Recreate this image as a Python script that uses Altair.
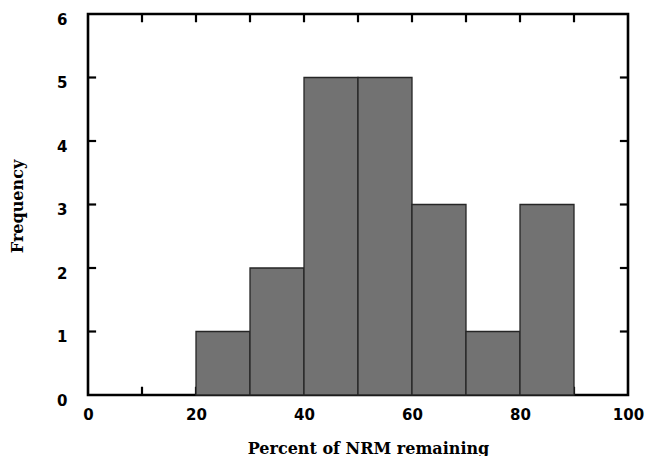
import altair as alt
import pandas as pd

bin_start = [20, 30, 40, 50, 60, 70, 80]
bin_end = [30, 40, 50, 60, 70, 80, 90]
freq = [1, 2, 5, 5, 3, 1, 3]
x_tick_values = [10, 20, 30, 40, 50, 60, 70, 80, 90]
x_label_values = [0, 20, 40, 60, 80, 100]
y_tick_values = [1, 2, 3, 4, 5]
y_label_values = [0, 1, 2, 3, 4, 5, 6]

bars_df = pd.DataFrame({"start": bin_start, "end": bin_end, "freq": freq})
xt_df = pd.DataFrame({"v": x_tick_values})
yt_df = pd.DataFrame({"v": y_tick_values})

xscale = alt.Scale(domain=[0, 100], nice=False, zero=False)
yscale = alt.Scale(domain=[0, 6], nice=False)

label_font = "DejaVu Sans"
title_font = "DejaVu Serif"

xaxis = alt.Axis(values=x_label_values, ticks=False, domain=False, grid=False,
                 format="d", labelFlush=False,
                 labelFont=label_font, labelFontWeight="bold", labelFontSize=15,
                 labelColor="black", labelPadding=12,
                 title="Percent of NRM remaining", titleFont=title_font,
                 titleFontWeight="bold", titleFontSize=16, titleColor="black",
                 titleX=280, titleY=58, titleBaseline="alphabetic", titleAlign="center")
yaxis = alt.Axis(values=y_label_values, ticks=False, domain=False, grid=False,
                 format="d", labelFlush=False, labelOffset=5,
                 labelFont=label_font, labelFontWeight="bold", labelFontSize=15,
                 labelColor="black", labelPadding=21,
                 title="Frequency", titleFont=title_font,
                 titleFontWeight="bold", titleFontSize=16, titleColor="black",
                 titleX=-66, titleY=192, titleBaseline="alphabetic", titleAlign="center",
                 titleAngle=270)

bars = alt.Chart(bars_df).mark_rect(fill="#727272", stroke="#262626", strokeWidth=1.3).encode(
    x=alt.X("start:Q", scale=xscale, axis=xaxis),
    x2="end:Q",
    y=alt.Y("freq:Q", scale=yscale, axis=yaxis),
    y2=alt.datum(0),
)

tick_style = dict(color="black", strokeWidth=2.2)
bottom_ticks = alt.Chart(xt_df).mark_rule(**tick_style).encode(
    x=alt.X("v:Q", scale=xscale), y=alt.datum(0), y2=alt.datum(0.13))
top_ticks = alt.Chart(xt_df).mark_rule(**tick_style).encode(
    x=alt.X("v:Q", scale=xscale), y=alt.datum(6), y2=alt.datum(5.87))
left_ticks = alt.Chart(yt_df).mark_rule(**tick_style).encode(
    y=alt.Y("v:Q", scale=yscale), x=alt.datum(0), x2=alt.datum(1.5))
right_ticks = alt.Chart(yt_df).mark_rule(**tick_style).encode(
    y=alt.Y("v:Q", scale=yscale), x=alt.datum(100), x2=alt.datum(98.5))

chart = alt.layer(bottom_ticks, top_ticks, left_ticks, right_ticks, bars).properties(
    width=540, height=381,
    autosize=alt.AutoSizeParams(type="none"),
    padding={"left": 88, "top": 14, "right": 18, "bottom": 61},
    background="white",
).configure_view(stroke="black", strokeWidth=2.6)

chart.save("out.html", embed_options={"renderer": "svg", "actions": False})
